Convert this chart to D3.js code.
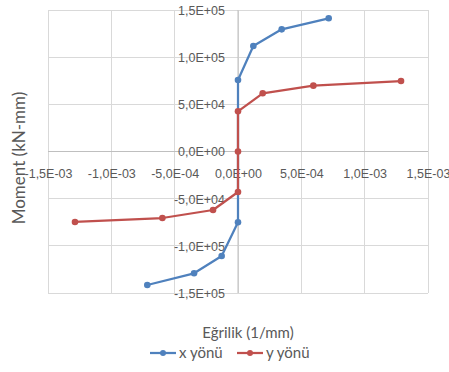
<!DOCTYPE html>
<html>
<head>
<meta charset="utf-8">
<script src="https://cdn.jsdelivr.net/npm/d3@7"></script>
<style>
  html, body { margin: 0; padding: 0; background: #fff; }
  svg { display: block; font-family: Lato, "Liberation Sans", sans-serif; }
</style>
</head>
<body>
<svg id="chart" width="449" height="372"></svg>
<script>
// Moment–curvature curves, x and y directions
const xCurvature = [-7.16e-4, -3.47e-4, -1.29e-4, 0, 0, 0, 1.21e-4, 3.45e-4, 7.16e-4];
const xMoment    = [-141500, -129100, -110800, -75000, 0, 75800, 111800, 129500, 141200];

const yCurvature = [-1.287e-3, -5.97e-4, -1.97e-4, 0, 0, 0, 1.95e-4, 5.95e-4, 1.287e-3];
const yMoment    = [-74700, -70500, -62000, -42900, 0, 42600, 61700, 69800, 74700];

const seriesNames = ["x yönü", "y yönü"];
const xTicks = [-1.5e-3, -1.0e-3, -5.0e-4, 0, 5.0e-4, 1.0e-3, 1.5e-3];
const yTicks = [-1.5e5, -1.0e5, -5.0e4, 0, 5.0e4, 1.0e5, 1.5e5];
const xTitle = "Eğrilik (1/mm)";
const yTitle = "Moment (kN-mm)";

const colors = ["#4F81BD", "#C0504D"];

const svg = d3.select("#chart");
const plot = { left: 48, right: 428, top: 10, bottom: 293 };

const x = d3.scaleLinear().domain([-1.5e-3, 1.5e-3]).range([plot.left, plot.right]);
const y = d3.scaleLinear().domain([-1.5e5, 1.5e5]).range([plot.bottom, plot.top]);

// Excel-style scientific label with comma decimal: 1,5E+05
function sci(v) {
  if (v === 0) return "0,0E+00";
  const exp = Math.floor(Math.log10(Math.abs(v)) + 1e-9);
  const mant = v / Math.pow(10, exp);
  const sign = exp < 0 ? "-" : "+";
  const e = String(Math.abs(exp)).padStart(2, "0");
  return mant.toFixed(1).replace(".", ",") + "E" + sign + e;
}

// gridlines
const grid = svg.append("g");
grid.selectAll("line.v").data(xTicks).join("line")
  .attr("x1", d => x(d)).attr("x2", d => x(d))
  .attr("y1", plot.top).attr("y2", plot.bottom)
  .attr("stroke", "#D9D9D9").attr("stroke-width", 1).attr("shape-rendering", "crispEdges");
grid.selectAll("line.h").data(yTicks).join("line")
  .attr("x1", plot.left).attr("x2", plot.right)
  .attr("y1", d => y(d)).attr("y2", d => y(d))
  .attr("stroke", "#D9D9D9").attr("stroke-width", 1).attr("shape-rendering", "crispEdges");

// axes crossing at zero
const xAxis = d3.axisBottom(x).tickValues(xTicks).tickFormat(sci).tickSize(0).tickPadding(18);
const yAxis = d3.axisLeft(y).tickValues(yTicks).tickFormat(sci).tickSize(0).tickPadding(13);

const gx = svg.append("g").attr("transform", `translate(0,${y(0)})`).call(xAxis);
const gy = svg.append("g").attr("transform", `translate(${x(0)},0)`).call(yAxis);
[gx, gy].forEach(g => {
  g.select(".domain").attr("stroke", "#BFBFBF").attr("stroke-width", 1);
  g.selectAll("text").attr("fill", "#595959").style("font-size", "12.5px");
});
gx.select(".domain").attr("d", `M${plot.left},0H${plot.right}`);
gy.select(".domain").attr("d", `M0,${plot.top}V${plot.bottom}`);
gy.selectAll("text").attr("dy", "0.35em");

// series
const series = [
  xCurvature.map((c, i) => [c, xMoment[i]]),
  yCurvature.map((c, i) => [c, yMoment[i]])
];
const line = d3.line().x(d => x(d[0])).y(d => y(d[1]));

series.forEach((pts, s) => {
  const g = svg.append("g");
  g.append("path").datum(pts)
    .attr("d", line).attr("fill", "none")
    .attr("stroke", colors[s]).attr("stroke-width", 2.25)
    .attr("stroke-linejoin", "round");
  g.selectAll("circle").data(pts.filter((d, i) => !(d[1] === 0 && s === 0))).join("circle")
    .attr("cx", d => x(d[0])).attr("cy", d => y(d[1]))
    .attr("r", 3.3).attr("fill", colors[s]);
});

// axis titles
svg.append("text")
  .attr("x", 248).attr("y", 338)
  .attr("text-anchor", "middle")
  .attr("fill", "#595959").style("font-size", "15px")
  .text(xTitle);

svg.append("text")
  .attr("transform", `translate(25,158) rotate(-90)`)
  .attr("text-anchor", "middle")
  .attr("fill", "#595959").style("font-size", "17px")
  .text(yTitle);

// legend
const legend = svg.append("g");
const legendItems = [{ x: 150 }, { x: 237 }];
legendItems.forEach((it, i) => {
  const g = legend.append("g").attr("transform", `translate(${it.x},353)`);
  g.append("line").attr("x1", 0).attr("x2", 26).attr("y1", 0).attr("y2", 0)
    .attr("stroke", colors[i]).attr("stroke-width", 2.25);
  g.append("circle").attr("cx", 13).attr("cy", 0).attr("r", 3).attr("fill", colors[i]);
  g.append("text").attr("x", 29).attr("y", 0).attr("dy", "0.35em")
    .attr("fill", "#595959").style("font-size", "15px")
    .text(seriesNames[i]);
});
</script>
</body>
</html>
